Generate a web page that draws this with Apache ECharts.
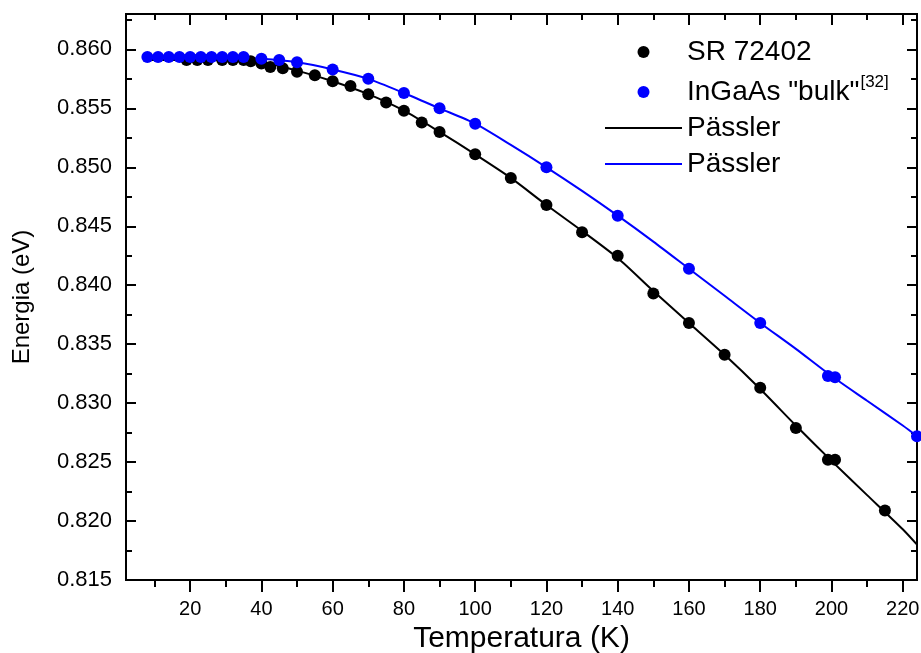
<!DOCTYPE html>
<html>
<head>
<meta charset="utf-8">
<script src="https://cdn.jsdelivr.net/npm/echarts@6/dist/echarts.min.js"></script>
<style>html,body{margin:0;padding:0;background:#fff}#c{width:921px;height:653px}</style>
</head>
<body>
<div id="c"></div>
<script>
// ---- data ----
const srT = [19, 22, 25, 29, 32, 35, 37, 40, 42.5, 46, 50, 55, 60, 65, 70, 75, 80, 85, 90, 100, 110, 120, 130, 140, 150, 160, 170, 180, 190, 199, 201, 215];
const srE = [0.8591, 0.8591, 0.8591, 0.8591, 0.8591, 0.8591, 0.8590, 0.8588, 0.8585, 0.8584, 0.8581, 0.8578, 0.8573, 0.8569, 0.8562, 0.8555, 0.8548, 0.8538, 0.8530, 0.8511, 0.8491, 0.8468, 0.8445, 0.8425, 0.8393, 0.8368, 0.8341, 0.8313, 0.8279, 0.8252, 0.8252, 0.8209];

const bulkT = [8, 11, 14, 17, 20, 23, 26, 29, 32, 35, 40, 45, 50, 60, 70, 80, 90, 100, 120, 140, 160, 180, 199, 201, 224];
const bulkE = [0.85935, 0.85935, 0.85935, 0.85935, 0.85935, 0.85935, 0.85935, 0.85935, 0.85935, 0.85935, 0.8592, 0.8591, 0.8589, 0.8583, 0.8575, 0.8563, 0.8550, 0.8537, 0.8500, 0.8459, 0.8414, 0.8368, 0.8323, 0.8322, 0.8272];

const fitT = [8, 20, 30, 40, 50, 60, 70, 80, 90, 100, 110, 120, 130, 140, 150, 160, 170, 180, 190, 200, 210, 220, 224];
const fitSrE = [0.8591, 0.8591, 0.8591, 0.8589, 0.8582, 0.8573, 0.8562, 0.8548, 0.8530, 0.8511, 0.8491, 0.8468, 0.8446, 0.8423, 0.8395, 0.8368, 0.8341, 0.8312, 0.8281, 0.8251, 0.8222, 0.8193, 0.8180];
const fitBulkE = [0.85935, 0.85935, 0.85933, 0.8592, 0.8589, 0.8583, 0.8575, 0.8563, 0.8550, 0.8537, 0.8519, 0.8500, 0.8480, 0.8459, 0.8437, 0.8414, 0.8391, 0.8368, 0.8346, 0.8323, 0.8302, 0.8281, 0.8272];

const xMajor = [20, 40, 60, 80, 100, 120, 140, 160, 180, 200, 220];
const xMinor = [10, 30, 50, 70, 90, 110, 130, 150, 170, 190, 210];
const yMajor = [0.815, 0.820, 0.825, 0.830, 0.835, 0.840, 0.845, 0.850, 0.855, 0.860];
const yMinor = [0.8175, 0.8225, 0.8275, 0.8325, 0.8375, 0.8425, 0.8475, 0.8525, 0.8575, 0.8625];

const names = ['SR 72402', 'InGaAs "bulk"', 'Pässler', 'Pässler '];
const supText = '[32]';

// ---- chart ----
const FONT = 'Arial, "Liberation Sans", sans-serif';
const zip = (a, b) => a.map((v, i) => [v, b[i]]);
const X_MIN = 2, X_MAX = 224, Y_MIN = 0.815, Y_MAX = 0.863;
const lineW = 2;

function xAxisDef(pos, vals, len, inside, labels, extra) {
  return Object.assign({
    type: 'value', min: X_MIN, max: X_MAX, position: pos,
    axisLine: { show: true, onZero: false, lineStyle: { color: '#000', width: lineW } },
    axisTick: { show: true, inside: inside, length: len, customValues: vals, lineStyle: { color: '#000', width: lineW } },
    axisLabel: labels ? { show: true, customValues: vals, color: '#000', fontSize: 20, fontFamily: FONT, margin: 19 } : { show: false },
    splitLine: { show: false }
  }, extra || {});
}
function yAxisDef(pos, vals, len, labels, extra) {
  return Object.assign({
    type: 'value', min: Y_MIN, max: Y_MAX, position: pos,
    axisLine: { show: true, onZero: false, lineStyle: { color: '#000', width: lineW } },
    axisTick: { show: true, inside: true, length: len, customValues: vals, lineStyle: { color: '#000', width: lineW } },
    axisLabel: labels ? { show: true, customValues: vals, color: '#000', fontSize: 22, fontFamily: FONT, margin: 14,
      formatter: v => v.toFixed(3) } : { show: false },
    splitLine: { show: false }
  }, extra || {});
}

const chart = echarts.init(document.getElementById('c'), null, { renderer: 'canvas' });
chart.setOption({
  animation: false,
  backgroundColor: '#fff',
  grid: { left: 126, right: 4, top: 14, bottom: 73, outerBoundsMode: 'none', containLabel: false },
  xAxis: [
    xAxisDef('bottom', xMajor, 12, false, true, {
      name: 'Temperatura (K)', nameLocation: 'middle', nameGap: 43,
      nameTextStyle: { color: '#000', fontSize: 30, fontFamily: FONT }
    }),
    xAxisDef('bottom', xMinor, 7, false, false),
    xAxisDef('top', xMajor, 11, true, false),
    xAxisDef('top', xMinor, 6, true, false)
  ],
  yAxis: [
    yAxisDef('left', yMajor, 10, true, {
      name: 'Energia (eV)', nameLocation: 'middle', nameGap: 92,
      nameTextStyle: { color: '#000', fontSize: 24, fontFamily: FONT }
    }),
    yAxisDef('left', yMinor, 6, false),
    yAxisDef('right', yMajor, 10, false),
    yAxisDef('right', yMinor, 6, false)
  ],
  legend: {
    orient: 'vertical', left: 600, top: 33,
    itemWidth: 77, itemHeight: 12, itemGap: 8,
    selectedMode: false,
    data: [
      { name: names[0], icon: 'circle' },
      { name: names[1], icon: 'circle' },
      { name: names[2], icon: 'path://M0,0L77,0L77,2L0,2Z' },
      { name: names[3], icon: 'path://M0,0L77,0L77,2L0,2Z' }
    ],
    formatter: function (n) {
      if (n === names[1]) return '{t|' + n + '}{s|' + supText + '}';
      return '{t|' + n.trim() + '}';
    },
    textStyle: {
      color: '#000', fontFamily: FONT, fontSize: 28,
      rich: {
        t: { fontSize: 28, fontFamily: FONT, color: '#000', verticalAlign: 'middle' },
        s: { fontSize: 17, fontFamily: FONT, color: '#000', verticalAlign: 'top', lineHeight: 36, padding: [0, 0, 0, 1] }
      }
    }
  },
  series: [
    { name: names[2], type: 'line', data: zip(fitT, fitSrE), symbol: 'none', smooth: 0.25,
      lineStyle: { color: '#000', width: 2 }, itemStyle: { color: '#000' }, z: 2 },
    { name: names[3], type: 'line', data: zip(fitT, fitBulkE), symbol: 'none', smooth: 0.25,
      lineStyle: { color: '#0000ff', width: 2 }, itemStyle: { color: '#0000ff' }, z: 2 },
    { name: names[0], type: 'scatter', data: zip(srT, srE), symbol: 'circle', symbolSize: 12,
      itemStyle: { color: '#000', opacity: 1 }, z: 3 },
    { name: names[1], type: 'scatter', data: zip(bulkT, bulkE), symbol: 'circle', symbolSize: 12,
      itemStyle: { color: '#0000ff', opacity: 1 }, z: 4 }
  ]
});
</script>
</body>
</html>
